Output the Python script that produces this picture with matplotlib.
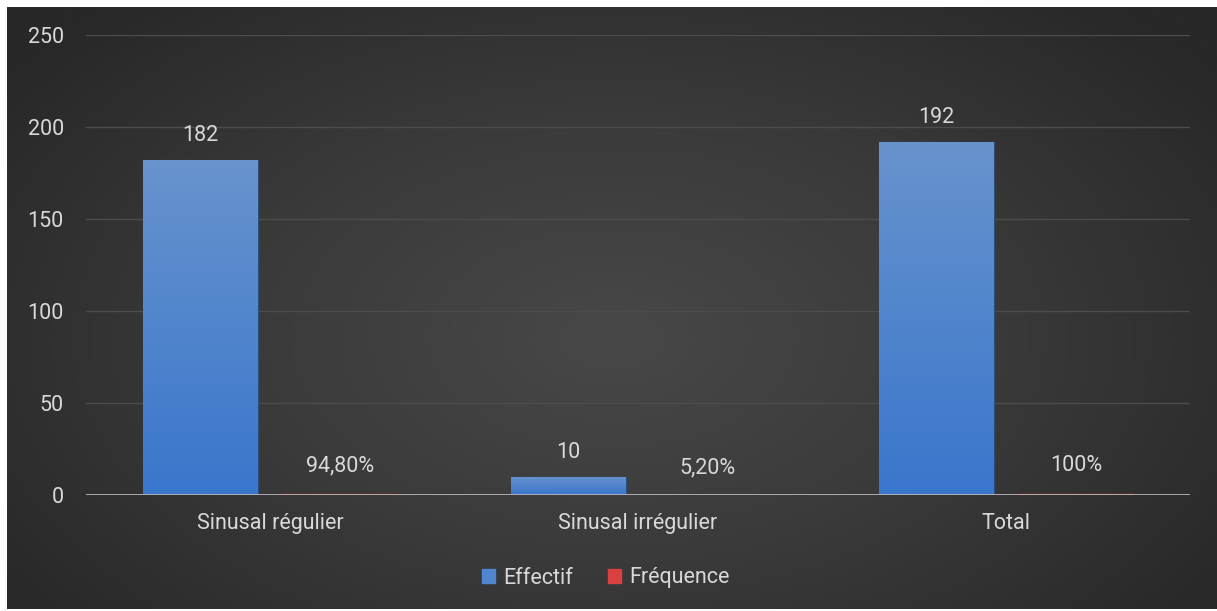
import numpy as np
import matplotlib
matplotlib.use("Agg")
import matplotlib.pyplot as plt
from matplotlib.colors import LinearSegmentedColormap

plt.rcParams['font.family'] = ['Roboto', 'DejaVu Sans']

categories = ["Sinusal régulier", "Sinusal irrégulier", "Total"]
effectif = [182, 10, 192]
frequence = [0.948, 0.052, 1.0]
frequence_labels = ["94,80%", "5,20%", "100%"]
series_names = ["Effectif", "Fréquence"]
yticks = [0, 50, 100, 150, 200, 250]

W, H = 1217, 611
FS = 15.5
TXT = "#d9d9d9"
fig = plt.figure(figsize=(W / 100, H / 100), dpi=100, facecolor="white")

# dark panel with a soft radial glow
bg = fig.add_axes([7 / W, 2 / H, 1 - 7 / W, 1 - 9 / H])
bg.set_axis_off()
yy, xx = np.mgrid[0:1:300j, 0:1:600j]
r = np.sqrt(((xx - 0.5) / 0.62) ** 2 + ((yy - 0.55) / 0.75) ** 2)
r = np.clip(r, 0, 1)
bg_cmap = LinearSegmentedColormap.from_list("bg", ["#484848", "#3a3a3a", "#282828"])
bg.imshow(r, cmap=bg_cmap, aspect="auto", extent=[0, 1, 0, 1], vmin=0, vmax=1)
bg.set_xlim(0, 1)
bg.set_ylim(0, 1)

ax = fig.add_axes([86 / W, 1 - 495 / H, (1190 - 86) / W, (495 - 35) / H])
ax.patch.set_alpha(0)
x = np.arange(len(categories))
width = 0.3125
offset = 0.19

blue_bars = ax.bar(x - offset, effectif, width, color="#4f86cf",
                   edgecolor="#2b4f80", linewidth=0.8, zorder=3, label=series_names[0])
red_bars = ax.bar(x + offset, frequence, width, color="#8a3a3a",
                  edgecolor="#5a2a2a", linewidth=0.5, zorder=3, label=series_names[1])

# vertical gradient inside the blue bars
grad = np.linspace(0, 1, 256).reshape(-1, 1)
bar_cmap = LinearSegmentedColormap.from_list("bar", ["#3a76cc", "#6893cd"])
for b in blue_bars:
    x0, y0 = b.get_x(), b.get_y()
    w, h = b.get_width(), b.get_height()
    im = ax.imshow(grad, cmap=bar_cmap, aspect="auto", origin="lower",
                   extent=[x0, x0 + w, y0, y0 + h], zorder=3.5)
    im.set_clip_path(b)

for b, v in zip(blue_bars, effectif):
    ax.annotate(f"{v}", (b.get_x() + b.get_width() / 2, b.get_height()),
                xytext=(0, 10), textcoords="offset points", ha="center", va="bottom",
                color=TXT, fontsize=FS)
for b, lab in zip(red_bars, frequence_labels):
    ax.annotate(lab, (b.get_x() + b.get_width() / 2, b.get_height()),
                xytext=(0, 12), textcoords="offset points", ha="center", va="bottom",
                color=TXT, fontsize=FS)

ax.set_xlim(-0.5, 2.5)
ax.set_ylim(0, 250)
ax.set_yticks(yticks)
ax.set_yticklabels([str(t) for t in yticks])
ax.set_xticks(x)
ax.set_xticklabels(categories)
ax.tick_params(axis="y", length=0, pad=16, labelsize=FS, labelcolor=TXT)
ax.tick_params(axis="x", length=0, pad=13, labelsize=FS, labelcolor=TXT)
ax.grid(axis="y", color="#4c4c4c", linewidth=1, zorder=0)
ax.set_axisbelow(True)
for s in ax.spines.values():
    s.set_visible(False)
ax.axhline(0, color="#b5b5b5", linewidth=2, zorder=4)

handles = [plt.Rectangle((0, 0), 1, 1, color="#4f86cf"),
           plt.Rectangle((0, 0), 1, 1, color="#d94040")]
fig.legend(handles, series_names, loc="center", bbox_to_anchor=(606 / W, 1 - 578 / H),
           ncol=2, frameon=False, fontsize=FS, labelcolor=TXT,
           handlelength=0.6, handleheight=0.6, handletextpad=0.4, columnspacing=1.6)

fig.savefig("out.png", dpi=100, facecolor="white")
